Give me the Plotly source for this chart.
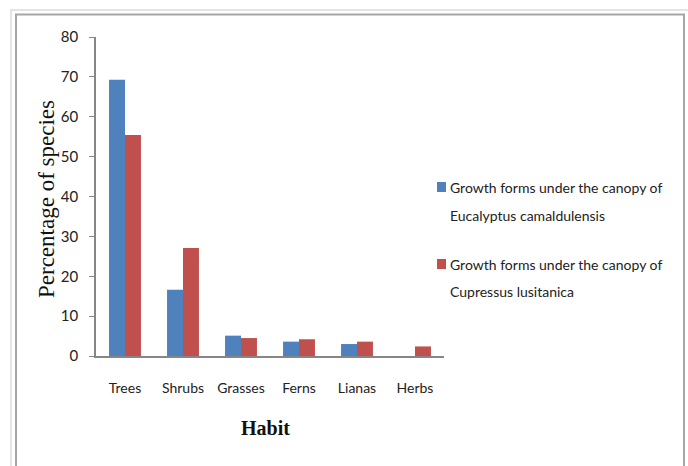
import plotly.graph_objects as go

categories = ["Trees", "Shrubs", "Grasses", "Ferns", "Lianas", "Herbs"]
eucalyptus = [69.3, 16.6, 5.1, 3.6, 3.0, 0]
cupressus = [55.4, 27.1, 4.5, 4.2, 3.6, 2.4]
series_names = ["Growth forms under the canopy of<br>Eucalyptus camaldulensis",
                "Growth forms under the canopy of<br>Cupressus lusitanica"]
y_ticks = [0, 10, 20, 30, 40, 50, 60, 70, 80]

W, H = 688, 466
L, R, T, B = 96, 244, 37, 110
PW, PH = W - L - R, H - T - B

def px(x):
    return (x - L) / PW

def py(y):
    return (H - B - y) / PH

BLUE = "#4f81bd"
RED = "#c0504d"
SANS = "Lato, Liberation Sans, Arial, sans-serif"
SERIF = "Liberation Serif, Times New Roman, serif"

fig = go.Figure()
fig.add_trace(go.Bar(x=categories, y=eucalyptus, name=series_names[0],
                     marker=dict(color=BLUE, line=dict(width=0)), showlegend=False))
fig.add_trace(go.Bar(x=categories, y=cupressus, name=series_names[1],
                     marker=dict(color=RED, line=dict(width=0)), showlegend=False))

fig.update_layout(
    width=W, height=H,
    margin=dict(l=L, r=R, t=T, b=B, pad=0),
    paper_bgcolor="white", plot_bgcolor="white",
    barmode="group", bargap=0.45, bargroupgap=0,
    showlegend=False,
    font=dict(family=SANS, size=14, color="#222222"),
)
fig.update_xaxes(showline=True, linecolor="#868686", linewidth=1.5, ticks="",
                 showgrid=False, tickfont=dict(family=SANS, size=14, color="#222222"),
                 ticklabelstandoff=18)
fig.update_yaxes(range=[0, 80], tickvals=y_ticks, showline=True, linecolor="#868686",
                 linewidth=1.5, ticks="outside", ticklen=5, tickcolor="#868686",
                 showgrid=False, zeroline=False,
                 tickfont=dict(family=SANS, size=15, color="#222222"),
                 ticklabelstandoff=8)

# axis titles
fig.add_annotation(text="Percentage of species", xref="paper", yref="paper",
                   x=px(46), y=py(199), textangle=-90, showarrow=False,
                   font=dict(family=SERIF, size=23, color="#111111"),
                   xanchor="center", yanchor="middle")
fig.add_annotation(text="<b>Habit</b>", xref="paper", yref="paper",
                   x=px(265), y=py(428), showarrow=False,
                   font=dict(family=SERIF, size=20, color="#111111"),
                   xanchor="center", yanchor="middle")

# legend drawn manually
colors = [BLUE, RED]
legend_rows = [(187, 216), (264, 291)]
for name, col, (y1, y2) in zip(series_names, colors, legend_rows):
    fig.add_shape(type="rect", xref="paper", yref="paper",
                  x0=px(437), x1=px(446), y0=py(y1 - 5), y1=py(y1 + 5),
                  fillcolor=col, line=dict(width=0))
    lines = name.split("<br>")
    for txt, yy in zip(lines, (y1, y2)):
        fig.add_annotation(text=txt, xref="paper", yref="paper",
                           x=px(448), y=py(yy), showarrow=False,
                           xanchor="left", yanchor="middle",
                           font=dict(family=SANS, size=14, color="#222222"))

# frame lines
fig.add_shape(type="rect", xref="paper", yref="paper",
              x0=px(11), x1=px(700), y0=py(10), y1=py(480),
              line=dict(color="#dcdcdc", width=1.5), fillcolor="rgba(0,0,0,0)", layer="below")
fig.add_shape(type="rect", xref="paper", yref="paper",
              x0=px(16), x1=px(684), y0=py(14.5), y1=py(480),
              line=dict(color="#a6a6a6", width=2), fillcolor="rgba(0,0,0,0)", layer="below")

fig.write_html("out.html", config={"displayModeBar": False},
               post_script="document.body.style.margin='0';document.body.style.overflow='hidden';")
